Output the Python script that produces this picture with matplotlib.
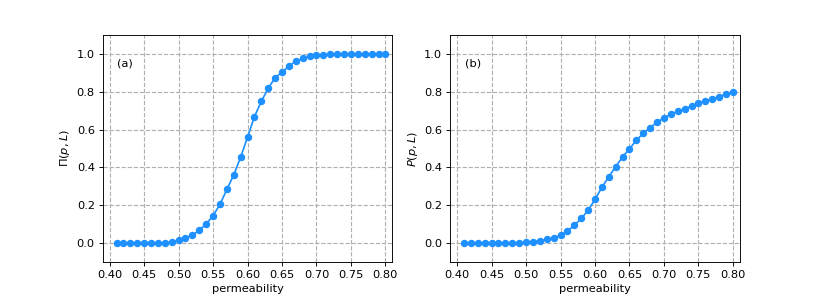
import numpy as np
import matplotlib
matplotlib.use('Agg')
import matplotlib.pyplot as plt

# permeability values
p = np.round(np.arange(0.41, 0.805, 0.01), 2)

# spanning probability Pi(p, L)
pi_vals = [0, 0, 0, 0, 0, 0, 0, 0, 0.003, 0.014,
           0.026, 0.04, 0.066, 0.10, 0.144, 0.203, 0.283, 0.36, 0.454, 0.56,
           0.668, 0.75, 0.819, 0.875, 0.904, 0.937, 0.962, 0.977, 0.988, 0.995,
           0.998, 1.0, 1.0, 1.0, 1.0, 1.0, 1.0, 1.0, 1.0, 1.0]

# strength P(p, L)
P_vals = [0, 0, 0, 0, 0, 0, 0, 0, 0, 0.002,
          0.005, 0.01, 0.019, 0.026, 0.04, 0.063, 0.092, 0.129, 0.172, 0.23,
          0.294, 0.35, 0.404, 0.455, 0.498, 0.544, 0.58, 0.611, 0.639, 0.662,
          0.681, 0.697, 0.711, 0.725, 0.739, 0.751, 0.763, 0.775, 0.787, 0.798]

dpi = 82.2
fig, axes = plt.subplots(1, 2, figsize=(822 / dpi, 294 / dpi), dpi=dpi)

for ax, vals, lab, ylab in zip(axes, [pi_vals, P_vals], ['(a)', '(b)'],
                               [r'$\Pi(p,L)$', r'$P(p,L)$']):
    ax.plot(p, vals, '-o', color='dodgerblue', markersize=5.5, linewidth=1.5)
    ax.set_xlim(0.39, 0.81)
    ax.set_ylim(-0.1, 1.1)
    ax.set_xticks(np.arange(0.40, 0.801, 0.05))
    ax.set_yticks(np.arange(0, 1.01, 0.2))
    ax.grid(True, linestyle='--', color='#b0b0b0', linewidth=1)
    ax.set_xlabel('permeability')
    ax.set_ylabel(ylab)
    ax.text(0.05, 0.877, lab, transform=ax.transAxes, va='center')

plt.savefig('out.png')
